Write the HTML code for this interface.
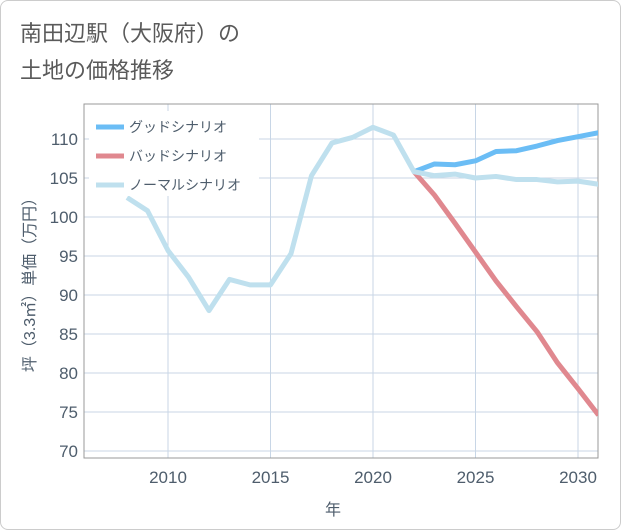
<!DOCTYPE html>
<html><head><meta charset="utf-8"><style>
body{margin:0;background:#fff;font-family:"Liberation Sans","Noto Sans CJK JP",sans-serif;}
#wrap{position:relative;width:619px;height:528px;border:1px solid #ccc;border-radius:8px;overflow:hidden;}
#title{position:absolute;left:19px;top:14px;font-size:22px;line-height:37px;color:#5a5a5a;}
svg{position:absolute;left:0;top:0;}
</style></head><body>
<div id="wrap">
<div id="title">南田辺駅（大阪府）の<br>土地の価格推移</div>
<svg id="c" width="621" height="530"></svg>
</div>
<script>
const years=[2008,2009,2010,2011,2012,2013,2014,2015,2016,2017,2018,2019,2020,2021,2022,2023,2024,2025,2026,2027,2028,2029,2030,2031];
const normal=[102.5,100.8,95.7,92.3,88,92,91.3,91.3,95.3,105.3,109.5,110.2,111.5,110.5,105.8,105.3,105.5,105,105.2,104.8,104.8,104.5,104.6,104.2];
const goodYears=[2022,2023,2024,2025,2026,2027,2028,2029,2030,2031];
const good=[105.8,106.8,106.7,107.2,108.4,108.5,109.1,109.8,110.3,110.8];
const bad=[105.8,102.8,99.2,95.5,91.8,88.5,85.3,81.3,78,74.6];
const yTicks=[70,75,80,85,90,95,100,105,110];
const xTicks=[2010,2015,2020,2025,2030];
const L=83,R=597,T=103,B=457;
const X=y=>167+(y-2010)*20.5;
const Y=v=>216-(v-100)*7.8;
const s=document.getElementById('c');const NS='http://www.w3.org/2000/svg';
function mk(t,a,p){const e=document.createElementNS(NS,t);for(const k in a)e.setAttribute(k,a[k]);(p||s).appendChild(e);return e;}
yTicks.forEach(v=>{const l=mk('line',{x1:L,x2:R,y1:Y(v),y2:Y(v),stroke:'#c8d6e6','stroke-width':1});

const t=mk('text',{x:L-6,y:Y(v)+6,'text-anchor':'end','font-size':17,fill:'#4e5d6c'});t.textContent=v;
});
xTicks.forEach(v=>{const l=mk('line',{x1:X(v),x2:X(v),y1:T,y2:B,stroke:'#c8d6e6','stroke-width':1});

const t=mk('text',{x:X(v),y:B+25,'text-anchor':'middle','font-size':17,fill:'#4e5d6c'});t.textContent=v;
});
const fr=mk('rect',{x:L,y:T,width:R-L,height:B-T,fill:'none',stroke:'#999','stroke-width':1});

const cp=mk('clipPath',{id:'cp'});mk('rect',{x:L,y:T,width:R-L,height:B-T},cp);
function line(xs,vs,col,name){const p=mk('polyline',{points:xs.map((y,i)=>X(y)+','+Y(vs[i])).join(' '),fill:'none',stroke:col,'stroke-width':5,'stroke-linejoin':'round','clip-path':'url(#cp)'});
}
line(goodYears,bad,'#e0888f','bad-scenario-line');
line(goodYears,good,'#6bbdf5','good-scenario-line');
line(years,normal,'#bfe0ee','normal-scenario-line');
const lg=mk('rect',{x:88,y:110,width:170,height:85,fill:'#fff'});

[['グッドシナリオ','#6bbdf5'],['バッドシナリオ','#e0888f'],['ノーマルシナリオ','#bfe0ee']].forEach((d,i)=>{
const y=126+i*29;const l=mk('line',{x1:95,x2:123,y1:y,y2:y,stroke:d[1],'stroke-width':5});

const t=mk('text',{x:128,y:y+5,'font-size':14,fill:'#4e5d6c'});t.textContent=d[0];
});
const yt=mk('text',{transform:'translate(34,280) rotate(-90)','text-anchor':'middle','font-size':16,fill:'#4e5d6c'});yt.textContent='坪（3.3㎡）単価（万円）';

const xt=mk('text',{x:332,y:514,'text-anchor':'middle','font-size':16,fill:'#4e5d6c'});xt.textContent='年';

</script>
</body></html>
